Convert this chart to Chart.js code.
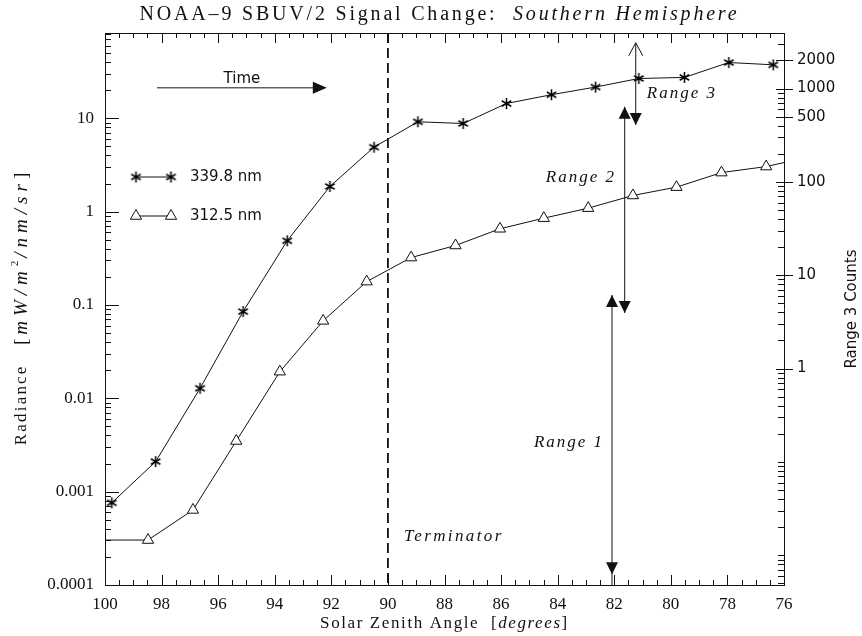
<!DOCTYPE html>
<html>
<head>
<meta charset="utf-8">
<script src="https://cdn.jsdelivr.net/npm/chart.js@4/dist/chart.umd.min.js"></script>
<style>
  html, body { margin: 0; padding: 0; background: #fff; }
</style>
</head>
<body>
<canvas id="chart" width="862" height="636"></canvas>
<script>
// Solar zenith angle [degrees] and radiance for each wavelength
const zenith339 = [99.76, 98.21, 96.64, 95.12, 93.56, 92.05, 90.49, 88.94, 87.34, 85.81, 84.22, 82.66, 81.13, 79.52, 77.95, 76.38];
const radiance339 = [0.00076, 0.0021, 0.0128, 0.085, 0.487, 1.86, 4.91, 9.17, 8.80, 14.4, 17.9, 21.6, 26.7, 27.4, 39.6, 37.4];

const zenith312 = [100.05, 98.48, 96.89, 95.36, 93.82, 92.29, 90.75, 89.18, 87.61, 86.04, 84.49, 82.92, 81.34, 79.80, 78.21, 76.63, 75.06];
const radiance312 = [0.000303, 0.000303, 0.000637, 0.00349, 0.0193, 0.0676, 0.178, 0.322, 0.434, 0.655, 0.851, 1.09, 1.49, 1.83, 2.62, 3.04, 3.89];

// Axes
const xMajorTicks = [100, 98, 96, 94, 92, 90, 88, 86, 84, 82, 80, 78, 76];
const radianceTicks = [0.0001, 0.001, 0.01, 0.1, 1, 10];
const countTicks = [1, 10, 100, 500, 1000, 2000];
const countsPerRadiance = 48;
const terminatorAngle = 90;

const X_MIN = 76, X_MAX = 100;
const Y_MIN = 0.0001, Y_MAX = 82;

const INK = '#111';
const SERIF = 'Liberation Serif';
const SANS = 'DejaVu Sans';

function near(list, v) {
  return list.some(t => Math.abs(t - v) <= Math.abs(t) * 1e-6);
}

// 1..9 x 10^n inside [min, max]
function logTickValues(min, max) {
  const out = [];
  for (let e = Math.floor(Math.log10(min)); e <= Math.ceil(Math.log10(max)); e++) {
    for (let m = 1; m <= 9; m++) {
      const v = parseFloat((m * Math.pow(10, e)).toPrecision(6));
      if (v >= min * 0.9999 && v <= max) out.push(v);
    }
  }
  return out;
}

function xTickValues() {
  const out = [];
  for (let v = X_MIN; v <= X_MAX; v += 0.5) out.push(v);
  return out;
}

// asterisk marker (6 arms)
function makeAsterisk(size) {
  const c = document.createElement('canvas');
  c.width = size; c.height = size;
  const g = c.getContext('2d');
  const r = size / 2 - 1;
  g.strokeStyle = '#000';
  g.lineWidth = 1.5;
  g.beginPath();
  [90, 30, 150].forEach(a => {
    const dx = Math.cos(a * Math.PI / 180) * r;
    const dy = Math.sin(a * Math.PI / 180) * r;
    g.moveTo(size / 2 - dx, size / 2 - dy);
    g.lineTo(size / 2 + dx, size / 2 + dy);
  });
  g.stroke();
  return c;
}
const asterisk = makeAsterisk(13);

/**
 * Draws a row of text runs with different fonts
 */
function drawRuns(ctx, runs, x, y) {
  let total = 0;
  runs.forEach(r => {
    ctx.font = r.font;
    ctx.letterSpacing = (r.spacing || 0) + 'px';
    r.w = ctx.measureText(r.text).width;
    total += r.w;
  });
  let cx = x - total / 2;
  ctx.textAlign = 'left';
  ctx.textBaseline = 'middle';
  runs.forEach(r => {
    ctx.font = r.font;
    ctx.letterSpacing = (r.spacing || 0) + 'px';
    ctx.fillText(r.text, cx, y + (r.dy || 0));
    cx += r.w;
  });
  ctx.letterSpacing = '0px';
}

function arrowHead(ctx, x, y, dir, filled, len, half) {
  ctx.beginPath();
  ctx.moveTo(x - half, y - dir * len);
  ctx.lineTo(x, y);
  ctx.lineTo(x + half, y - dir * len);
  if (filled) { ctx.closePath(); ctx.fill(); } else { ctx.stroke(); }
}

// inward tick marks and the box
const frameTicks = {
  id: 'frameTicks',
  afterDraw(chart) {
    const { ctx, chartArea: a, scales } = chart;
    ctx.save();
    ctx.strokeStyle = INK;
    ctx.lineWidth = 1;
    ctx.beginPath();
    ctx.moveTo(a.left, a.top + 0.5);
    ctx.lineTo(a.right, a.top + 0.5);
    scales.x.ticks.forEach(t => {
      const px = Math.round(scales.x.getPixelForValue(t.value)) + 0.5;
      const len = near(xMajorTicks, t.value) ? 10 : 5;
      ctx.moveTo(px, a.bottom); ctx.lineTo(px, a.bottom - len);
      ctx.moveTo(px, a.top); ctx.lineTo(px, a.top + len);
    });
    scales.y.ticks.forEach(t => {
      const py = Math.round(scales.y.getPixelForValue(t.value)) + 0.5;
      const len = near(radianceTicks, t.value) ? 14 : 6;
      ctx.moveTo(a.left, py); ctx.lineTo(a.left + len, py);
    });
    scales.y2.ticks.forEach(t => {
      const py = Math.round(scales.y2.getPixelForValue(t.value)) + 0.5;
      if (near(countTicks, t.value)) {
        ctx.moveTo(a.right - 8, py); ctx.lineTo(a.right + 9, py);
      } else {
        ctx.moveTo(a.right, py); ctx.lineTo(a.right - 6, py);
      }
    });
    ctx.stroke();
    ctx.restore();
  }
};

// title, axis titles, legend and the range arrows
const annotations = {
  id: 'annotations',
  afterDatasetsDraw(chart) {
    const { ctx, chartArea: a, scales } = chart;
    const X = v => scales.x.getPixelForValue(v);
    const Y = v => scales.y.getPixelForValue(v);
    ctx.save();
    ctx.fillStyle = INK;
    ctx.strokeStyle = INK;

    // terminator
    ctx.lineWidth = 1.8;
    ctx.setLineDash([10, 5]);
    ctx.beginPath();
    ctx.moveTo(X(terminatorAngle), a.top);
    ctx.lineTo(X(terminatorAngle), a.bottom);
    ctx.stroke();
    ctx.setLineDash([]);
    ctx.lineWidth = 1;

    // time arrow
    const ty = Y(21.2);
    ctx.beginPath();
    ctx.moveTo(X(98.16), ty); ctx.lineTo(X(92.6), ty);
    ctx.stroke();
    ctx.beginPath();
    ctx.moveTo(X(92.16), ty); ctx.lineTo(X(92.16) - 14, ty - 6); ctx.lineTo(X(92.16) - 14, ty + 6);
    ctx.closePath(); ctx.fill();
    drawRuns(ctx, [{ text: 'Time', font: `15px "${SANS}"` }], X(95.16), Y(26.5));

    // Range 1
    let rx = X(82.08);
    ctx.beginPath(); ctx.moveTo(rx, Y(0.128)); ctx.lineTo(rx, a.bottom); ctx.stroke();
    arrowHead(ctx, rx, Y(0.128), -1, true, 12, 6);
    arrowHead(ctx, rx, Y(0.00013), 1, true, 12, 6);
    drawRuns(ctx, [{ text: 'Range 1', font: `italic 17px "${SERIF}"`, spacing: 2 }], X(83.6), Y(0.00333));

    // Range 2
    rx = X(81.63);
    ctx.beginPath(); ctx.moveTo(rx, Y(13.3)); ctx.lineTo(rx, Y(0.082)); ctx.stroke();
    arrowHead(ctx, rx, Y(13.3), -1, true, 12, 6);
    arrowHead(ctx, rx, Y(0.082), 1, true, 12, 6);
    drawRuns(ctx, [{ text: 'Range 2', font: `italic 17px "${SERIF}"`, spacing: 2 }], X(83.18), Y(2.3));

    // Range 3
    rx = X(81.24);
    ctx.beginPath(); ctx.moveTo(rx, Y(64.4)); ctx.lineTo(rx, Y(8.5)); ctx.stroke();
    arrowHead(ctx, rx, Y(64.4), -1, false, 13, 7);
    arrowHead(ctx, rx, Y(8.5), 1, true, 12, 6);
    drawRuns(ctx, [{ text: 'Range 3', font: `italic 17px "${SERIF}"`, spacing: 2 }], X(79.61), Y(18.3));

    drawRuns(ctx, [{ text: 'Terminator', font: `italic 17px "${SERIF}"`, spacing: 2.4 }], X(87.67), Y(0.000327));

    // legend
    const legend = [
      { label: '339.8 nm', y: 177, star: true },
      { label: '312.5 nm', y: 216, star: false }
    ];
    legend.forEach(item => {
      ctx.strokeStyle = INK;
      ctx.lineWidth = 1;
      ctx.beginPath(); ctx.moveTo(136, item.y); ctx.lineTo(171, item.y); ctx.stroke();
      [136, 171].forEach(px => {
        if (item.star) {
          ctx.drawImage(asterisk, px - asterisk.width / 2, item.y - asterisk.height / 2);
        } else {
          ctx.fillStyle = '#fff';
          ctx.strokeStyle = INK;
          ctx.lineWidth = 1;
          Chart.helpers.drawPoint(ctx, { pointStyle: 'triangle', radius: 6.5, borderWidth: 1 }, px, item.y);
        }
      });
      ctx.fillStyle = INK;
      ctx.font = `15px "${SANS}"`;
      ctx.textAlign = 'left';
      ctx.textBaseline = 'middle';
      ctx.fillText(item.label, 190, item.y);
    });

    // title
    drawRuns(ctx, [
      { text: 'NOAA\u20139 SBUV/2 Signal Change:  ', font: `20px "${SERIF}"`, spacing: 2.8 },
      { text: 'Southern Hemisphere', font: `italic 20px "${SERIF}"`, spacing: 2.8 }
    ], (a.left + a.right) / 2 - 5, 15);

    // x title
    drawRuns(ctx, [
      { text: 'Solar Zenith Angle  [', font: `17px "${SERIF}"`, spacing: 1.6 },
      { text: 'degrees', font: `italic 17px "${SERIF}"`, spacing: 1.6 },
      { text: ']', font: `17px "${SERIF}"`, spacing: 1.6 }
    ], (a.left + a.right) / 2, 624);

    // y title (left)
    ctx.save();
    ctx.translate(22, (a.top + a.bottom) / 2);
    ctx.rotate(-Math.PI / 2);
    drawRuns(ctx, [
      { text: 'Radiance   ', font: `17px "${SERIF}"`, spacing: 2.2 },
      { text: '[', font: `19px "${SERIF}"`, spacing: 4 },
      { text: 'mW/m', font: `italic 19px "${SERIF}"`, spacing: 5 },
      { text: '2', font: `11px "${SERIF}"`, spacing: 3, dy: -7 },
      { text: '/nm/sr', font: `italic 19px "${SERIF}"`, spacing: 5 },
      { text: ']', font: `19px "${SERIF}"`, spacing: 0 }
    ], 0, 0);
    ctx.restore();

    // y title (right)
    ctx.save();
    ctx.translate(852, (a.top + a.bottom) / 2);
    ctx.rotate(-Math.PI / 2);
    drawRuns(ctx, [{ text: 'Range 3 Counts', font: `15px "${SANS}"` }], 0, 0);
    ctx.restore();

    ctx.restore();
  }
};

const xTicks = xTickValues();
const radianceTickValues = logTickValues(Y_MIN, Y_MAX);
const countTickValues = logTickValues(Y_MIN * countsPerRadiance, Y_MAX * countsPerRadiance);

new Chart(document.getElementById('chart').getContext('2d'), {
  type: 'line',
  data: {
    datasets: [{
      label: '339.8 nm',
      data: zenith339.map((x, i) => ({ x: x, y: radiance339[i] })),
      borderColor: INK,
      borderWidth: 1,
      pointStyle: asterisk,
      pointRadius: 5,
      tension: 0,
      clip: 0
    }, {
      label: '312.5 nm',
      data: zenith312.map((x, i) => ({ x: x, y: radiance312[i] })),
      borderColor: INK,
      borderWidth: 1,
      pointStyle: 'triangle',
      pointRadius: c => (c.raw && c.raw.x >= X_MIN && c.raw.x <= X_MAX) ? 6.5 : 0,
      pointBackgroundColor: '#fff',
      pointBorderColor: INK,
      pointBorderWidth: 1,
      tension: 0,
      clip: 0
    }]
  },
  options: {
    responsive: false,
    animation: false,
    devicePixelRatio: 1,
    layout: { padding: { top: 33, left: 0, right: 0, bottom: 0 } },
    plugins: {
      legend: { display: false },
      tooltip: { enabled: false },
      title: { display: false }
    },
    scales: {
      x: {
        type: 'linear',
        position: 'bottom',
        reverse: true,
        min: X_MIN,
        max: X_MAX,
        grid: { display: false, drawTicks: false },
        border: { display: true, color: INK, width: 1 },
        afterBuildTicks: s => { s.ticks = xTicks.map(v => ({ value: v })); },
        afterFit: s => { s.height = 51; },
        ticks: {
          autoSkip: false,
          maxRotation: 0,
          padding: 9,
          color: INK,
          font: { family: SERIF, size: 17 },
          callback: v => near(xMajorTicks, v) ? String(v) : ''
        }
      },
      y: {
        type: 'logarithmic',
        position: 'left',
        min: Y_MIN,
        max: Y_MAX,
        grid: { display: false, drawTicks: false },
        border: { display: true, color: INK, width: 1 },
        afterBuildTicks: s => { s.ticks = radianceTickValues.map(v => ({ value: v })); },
        afterFit: s => { s.width = 105; },
        ticks: {
          autoSkip: false,
          padding: 11,
          color: INK,
          font: { family: SERIF, size: 17 },
          callback: v => near(radianceTicks, v) ? String(v) : ''
        }
      },
      y2: {
        type: 'logarithmic',
        position: 'right',
        min: Y_MIN * countsPerRadiance,
        max: Y_MAX * countsPerRadiance,
        grid: { display: false, drawTicks: false },
        border: { display: true, color: INK, width: 1 },
        afterBuildTicks: s => { s.ticks = countTickValues.map(v => ({ value: v })); },
        afterFit: s => { s.width = 78; },
        ticks: {
          autoSkip: false,
          padding: 13,
          color: INK,
          font: { family: SANS, size: 15 },
          callback: v => near(countTicks, v) ? String(v) : ''
        }
      }
    }
  },
  plugins: [frameTicks, annotations]
});
</script>
</body>
</html>
